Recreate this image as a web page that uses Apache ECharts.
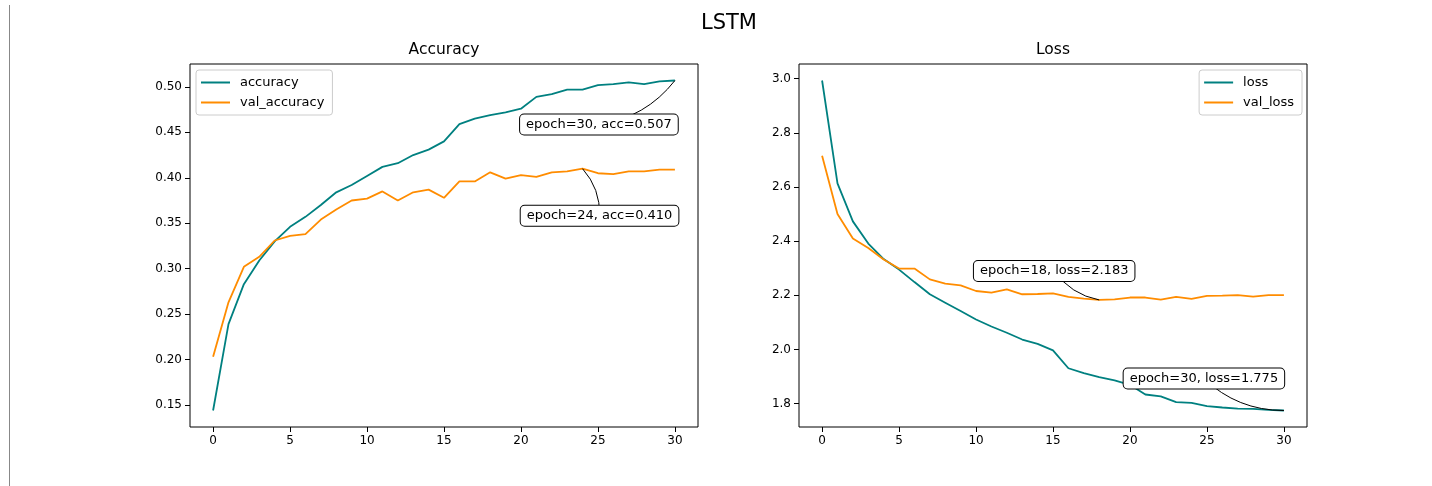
<!DOCTYPE html>
<html>
<head>
<meta charset="utf-8">
<script src="https://cdn.jsdelivr.net/npm/echarts@6/dist/echarts.min.js"></script>
<style>
html, body { margin: 0; padding: 0; background: #fff; }
#main { width: 1432px; height: 486px; }
</style>
</head>
<body>
<div id="main"></div>
<script>
const epochs = [0, 1, 2, 3, 4, 5, 6, 7, 8, 9, 10, 11, 12, 13, 14, 15, 16, 17, 18, 19, 20, 21, 22, 23, 24, 25, 26, 27, 28, 29, 30];
const accuracy = [0.144, 0.239, 0.283, 0.309, 0.330, 0.346, 0.357, 0.370, 0.384, 0.392, 0.402, 0.412, 0.416, 0.425, 0.431, 0.440,
  0.459, 0.465, 0.469, 0.472, 0.476, 0.489, 0.492, 0.497, 0.497, 0.502, 0.503, 0.505, 0.503, 0.506, 0.507];
const valAccuracy = [0.203, 0.263, 0.302, 0.313, 0.331, 0.336, 0.338, 0.354, 0.365, 0.375, 0.377, 0.385, 0.375, 0.384, 0.387, 0.378,
  0.396, 0.396, 0.406, 0.399, 0.403, 0.401, 0.406, 0.407, 0.410, 0.405, 0.404, 0.407, 0.407, 0.409, 0.409];
const loss = [2.993, 2.613, 2.473, 2.391, 2.334, 2.295, 2.249, 2.204, 2.173, 2.142, 2.111, 2.085, 2.062, 2.037, 2.021, 1.997,
  1.931, 1.913, 1.898, 1.886, 1.870, 1.834, 1.827, 1.806, 1.803, 1.791, 1.786, 1.782, 1.781, 1.777, 1.775];
const valLoss = [2.715, 2.500, 2.410, 2.375, 2.332, 2.299, 2.299, 2.259, 2.243, 2.237, 2.216, 2.210, 2.222, 2.204, 2.205, 2.207,
  2.194, 2.188, 2.183, 2.185, 2.192, 2.192, 2.184, 2.194, 2.187, 2.198, 2.199, 2.201, 2.195, 2.201, 2.201];

const xTicks = [0, 5, 10, 15, 20, 25, 30];
const accTicks = [0.15, 0.20, 0.25, 0.30, 0.35, 0.40, 0.45, 0.50];
const lossTicks = [1.8, 2.0, 2.2, 2.4, 2.6, 2.8, 3.0];

const TEAL = '#008080';
const ORANGE = '#ff8c00';
const FONT = 'DejaVu Sans';

// matplotlib-like 5% margins
function padRange(arrs) {
  const all = [].concat(...arrs);
  const lo = Math.min(...all), hi = Math.max(...all);
  const m = (hi - lo) * 0.05;
  return [lo - m, hi + m];
}
const accRange = padRange([accuracy, valAccuracy]);
const lossRange = padRange([loss, valLoss]);

const pairs = (ys) => epochs.map((e, i) => [e, ys[i]]);

function xAxis(gi) {
  return {
    type: 'value', gridIndex: gi, min: -1.5, max: 31.5,
    axisLine: { show: false, onZero: false },
    axisTick: { show: true, length: 5, lineStyle: { color: '#000' }, customValues: xTicks },
    axisLabel: { color: '#000', fontSize: 12, fontFamily: FONT, margin: 8, customValues: xTicks, formatter: v => String(v) },
    splitLine: { show: false }
  };
}
function yAxis(gi, range, ticks, digits) {
  return {
    type: 'value', gridIndex: gi, min: range[0], max: range[1],
    axisLine: { show: false, onZero: false },
    axisTick: { show: true, length: 5, lineStyle: { color: '#000' }, customValues: ticks },
    axisLabel: { color: '#000', fontSize: 12, fontFamily: FONT, margin: 8, customValues: ticks, formatter: v => v.toFixed(digits) },
    splitLine: { show: false }
  };
}
function line(name, gi, ys, color) {
  return {
    name, type: 'line', xAxisIndex: gi, yAxisIndex: gi, data: pairs(ys),
    showSymbol: false, symbol: 'none', lineStyle: { color, width: 1.8 }, itemStyle: { color }
  };
}
const legendBase = {
  orient: 'vertical', icon: 'rect', itemWidth: 29, itemHeight: 2, itemGap: 7,
  padding: [6, 8, 6, 5], borderColor: '#cccccc', borderWidth: 1, borderRadius: 3,
  backgroundColor: 'rgba(255,255,255,0.8)',
  textStyle: { fontSize: 13, fontFamily: FONT, color: '#000', lineHeight: 13, padding: [0, 0, 0, 5] }
};

const chart = echarts.init(document.getElementById('main'));
chart.setOption({
  animation: false,
  backgroundColor: '#fff',
  textStyle: { fontFamily: FONT },
  title: [
    { text: 'LSTM', left: 729, top: 13, textAlign: 'center', padding: 0, textStyle: { fontSize: 21, fontWeight: 'normal', color: '#000', fontFamily: FONT } },
    { text: 'Accuracy', left: 444, top: 42, textAlign: 'center', padding: 0, textStyle: { fontSize: 15.5, fontWeight: 'normal', color: '#000', fontFamily: FONT } },
    { text: 'Loss', left: 1053, top: 42, textAlign: 'center', padding: 0, textStyle: { fontSize: 15.5, fontWeight: 'normal', color: '#000', fontFamily: FONT } }
  ],
  grid: [
    { left: 190, top: 64, width: 508, height: 363, show: true, borderColor: '#000', borderWidth: 1 },
    { left: 799, top: 64, width: 508, height: 363, show: true, borderColor: '#000', borderWidth: 1 }
  ],
  legend: [
    Object.assign({}, legendBase, { left: 196, top: 70, data: ['accuracy', 'val_accuracy'] }),
    Object.assign({}, legendBase, { right: 130, top: 70, data: ['loss', 'val_loss'] })
  ],
  xAxis: [xAxis(0), xAxis(1)],
  yAxis: [yAxis(0, accRange, accTicks, 2), yAxis(1, lossRange, lossTicks, 1)],
  series: [
    line('accuracy', 0, accuracy, TEAL),
    line('val_accuracy', 0, valAccuracy, ORANGE),
    line('loss', 1, loss, TEAL),
    line('val_loss', 1, valLoss, ORANGE)
  ]
});

// annotation boxes, anchored to data points through the axes
function argBest(arr, better) {
  let k = 0;
  for (let i = 1; i < arr.length; i++) if (better(arr[i], arr[k])) k = i;
  return k;
}
function note(gi, ep, val, text, dx, dy) {
  const p = chart.convertToPixel({ gridIndex: gi }, [ep, val]);
  const cx = p[0] + dx, cy = p[1] + dy;
  const mx = (cx + p[0]) / 2, my = (cy + p[1]) / 2;
  const f = 0.2;
  return [
    {
      type: 'bezierCurve', z: 100,
      shape: { x1: cx, y1: cy, x2: p[0], y2: p[1], cpx1: mx - f * (p[1] - cy), cpy1: my + f * (p[0] - cx) },
      style: { stroke: '#000', lineWidth: 1, fill: null }
    },
    {
      type: 'text', z: 101, x: cx, y: cy,
      style: {
        text, fontSize: 13, fontFamily: FONT, fill: '#000', align: 'center', verticalAlign: 'middle',
        backgroundColor: '#fff', borderColor: '#000', borderWidth: 1, borderRadius: 4, padding: [4, 6, 3, 6]
      }
    }
  ];
}
const iAcc = argBest(accuracy, (a, b) => a > b);
const iVacc = argBest(valAccuracy, (a, b) => a > b);
const iLoss = argBest(loss, (a, b) => a < b);
const iVloss = argBest(valLoss, (a, b) => a < b);

chart.setOption({
  graphic: [
    { type: 'line', shape: { x1: 9.5, y1: 5, x2: 9.5, y2: 486 }, style: { stroke: '#888', lineWidth: 1 } },
    ...note(0, epochs[iAcc], accuracy[iAcc], `epoch=${epochs[iAcc]}, acc=${accuracy[iAcc].toFixed(3)}`, -76, 44),
    ...note(0, epochs[iVacc], valAccuracy[iVacc], `epoch=${epochs[iVacc]}, acc=${valAccuracy[iVacc].toFixed(3)}`, 17, 47),
    ...note(1, epochs[iVloss], valLoss[iVloss], `epoch=${epochs[iVloss]}, loss=${valLoss[iVloss].toFixed(3)}`, -45, -29),
    ...note(1, epochs[iLoss], loss[iLoss], `epoch=${epochs[iLoss]}, loss=${loss[iLoss].toFixed(3)}`, -80, -32)
  ]
});
</script>
</body>
</html>
